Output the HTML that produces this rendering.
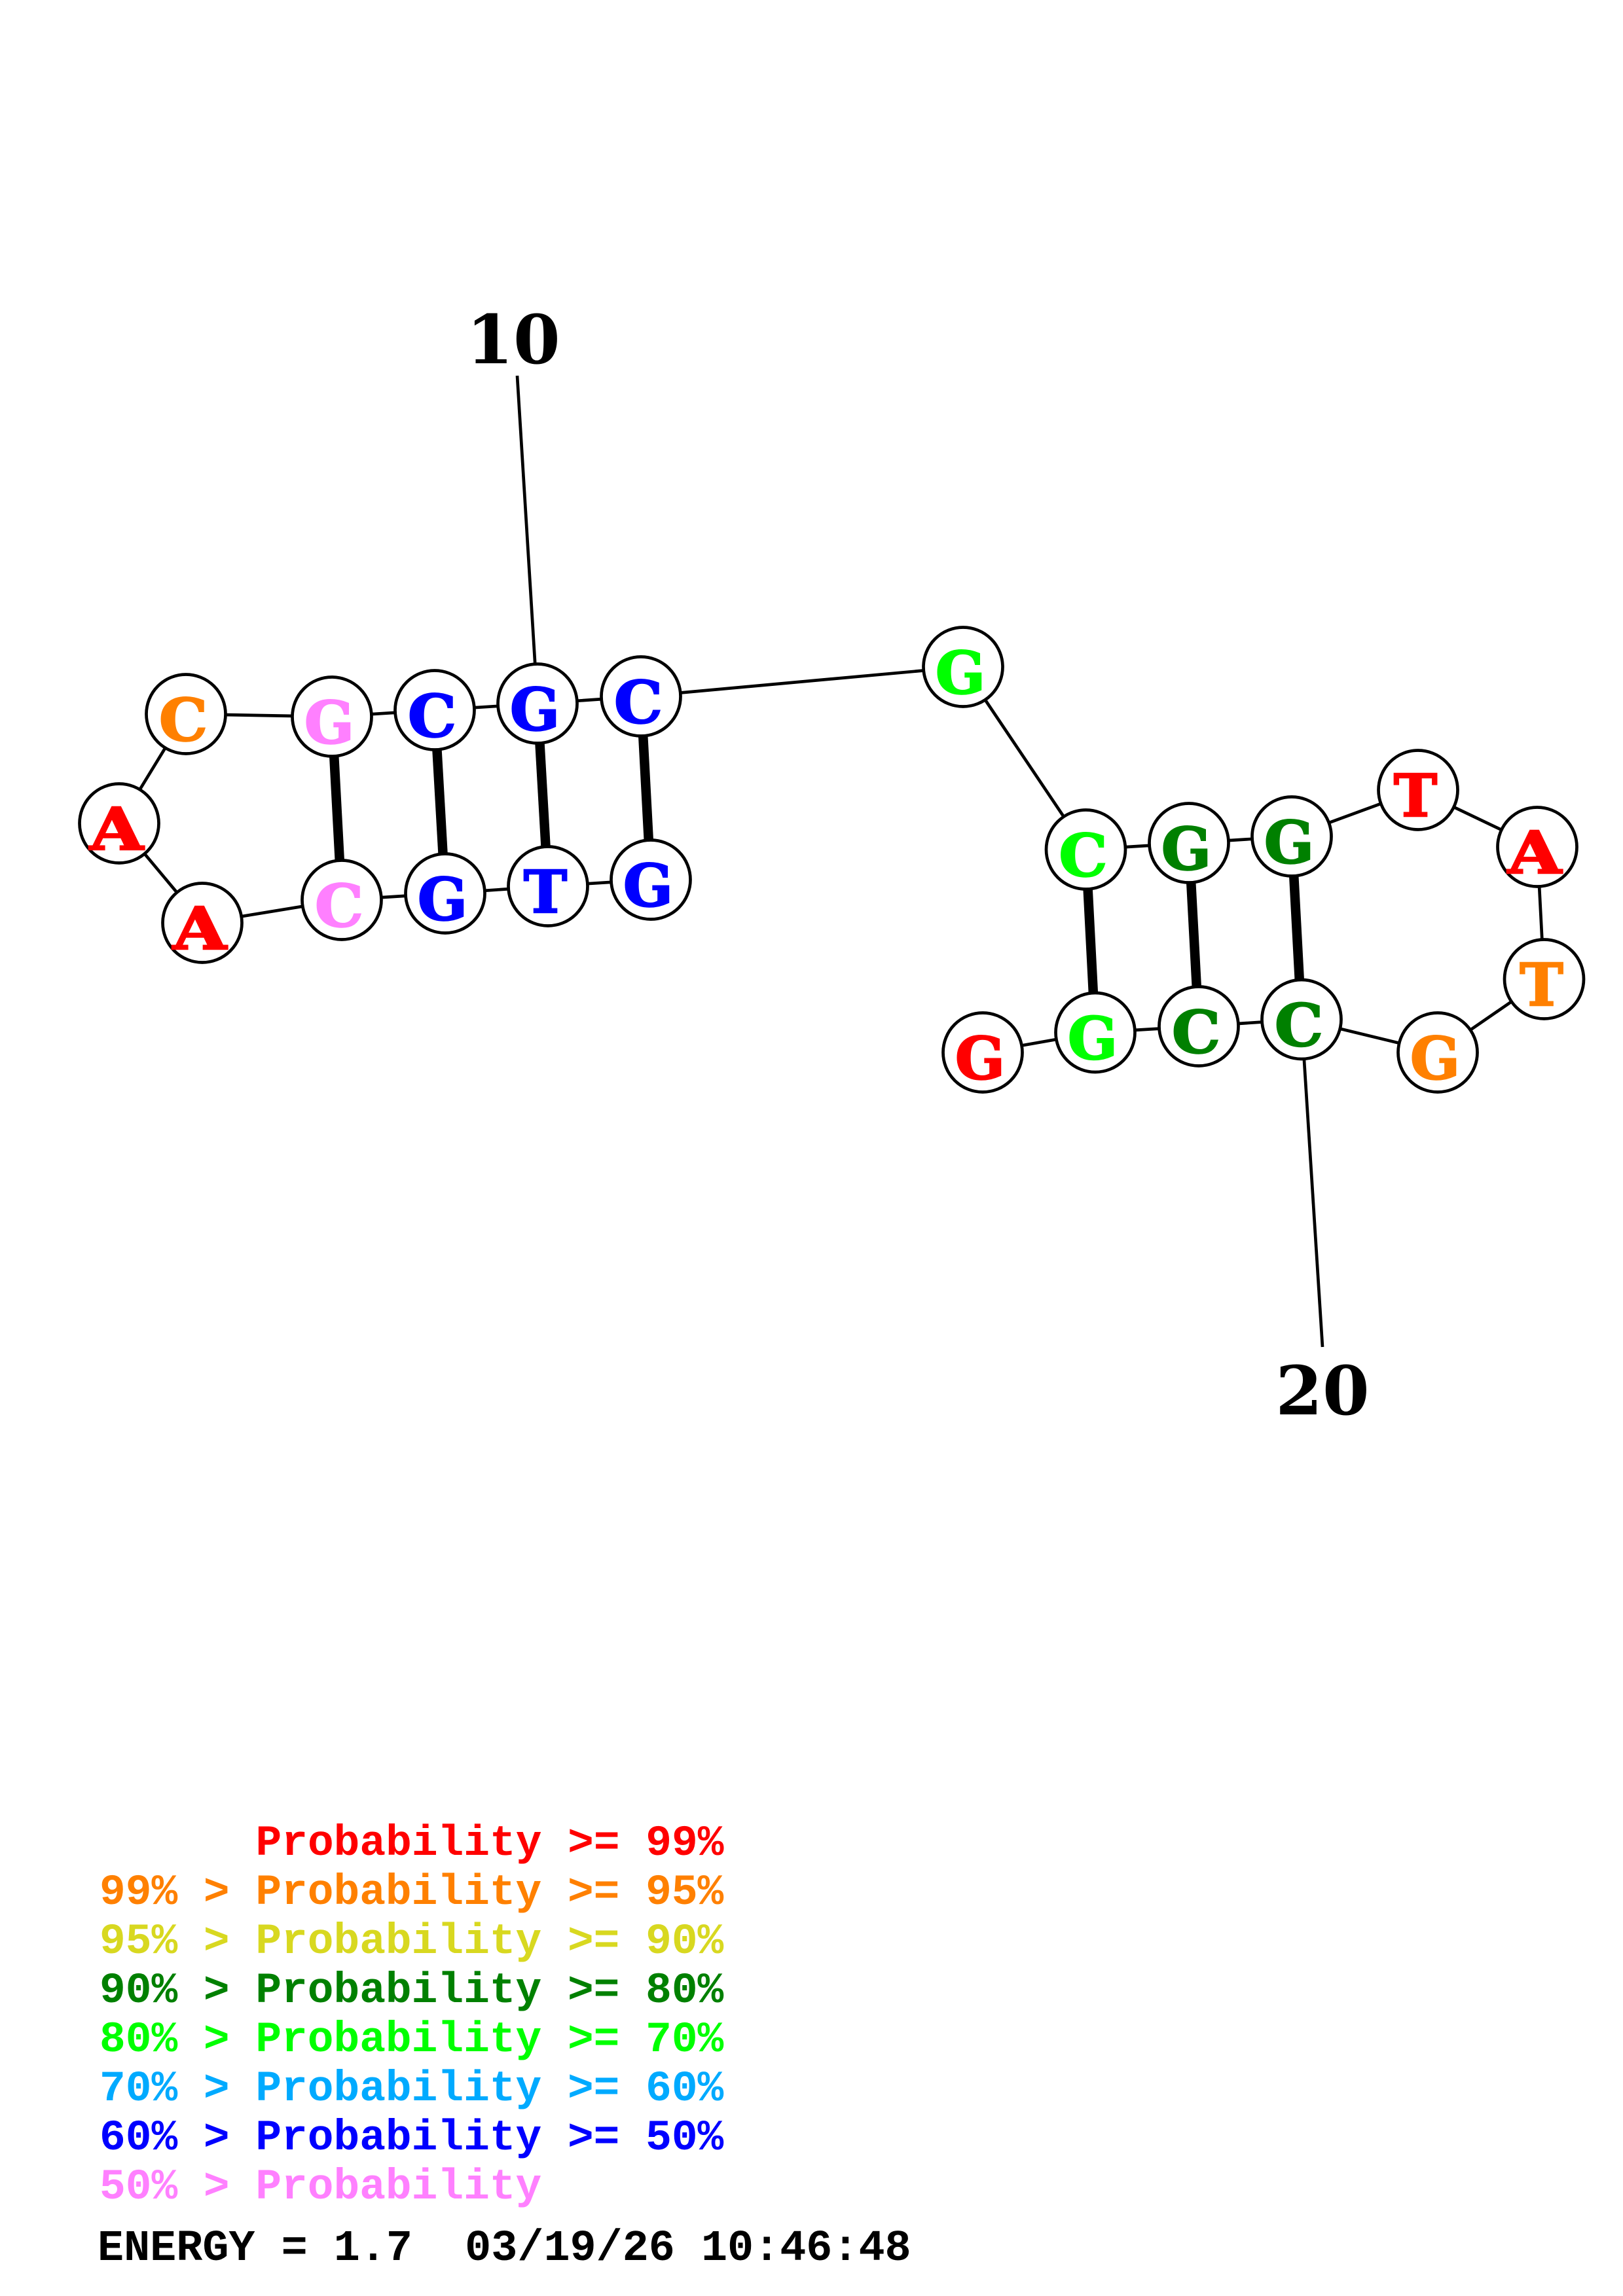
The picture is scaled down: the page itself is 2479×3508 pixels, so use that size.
<!DOCTYPE html>
<html><head><meta charset="utf-8"><style>html,body{margin:0;padding:0;background:#fff}svg{display:block}
text{font-family:"Liberation Mono",monospace;font-weight:bold}
.s text{font-family:"DejaVu Serif","Liberation Serif",serif}
.n text{stroke-width:2.5}</style></head><body>
<svg width="2479" height="3508" viewBox="0 0 2479 3508" xmlns="http://www.w3.org/2000/svg">
<rect width="2479" height="3508" fill="#fff"/>
<g fill="none" stroke="#000" stroke-width="4.7">
<polyline points="994,1344 837,1354 680,1365 522,1375 309,1410 182,1258 284,1091 507,1095 664,1085 821,1075 979,1064 1471,1019 1658.5,1298 1816,1288 1973,1278 2166,1207 2348,1294 2358.5,1496 2196,1608 1988,1557.5 1831,1568 1673,1577.5 1501,1608"/>
<line x1="821" y1="1075" x2="790" y2="574"/>
<line x1="1988" y1="1557.5" x2="2020" y2="2058"/>
</g>
<g stroke="#000" stroke-width="14.5">
<line x1="507" y1="1095" x2="522" y2="1375"/>
<line x1="664" y1="1085" x2="680" y2="1365"/>
<line x1="821" y1="1075" x2="837" y2="1354"/>
<line x1="979" y1="1064" x2="994" y2="1344"/>
<line x1="1658.5" y1="1298" x2="1673" y2="1577.5"/>
<line x1="1816" y1="1288" x2="1831" y2="1568"/>
<line x1="1973" y1="1278" x2="1988" y2="1557.5"/>
</g>
<g fill="#fff" stroke="#000" stroke-width="4.7">
<circle cx="284" cy="1091" r="60.5"/><circle cx="182" cy="1258" r="60.5"/><circle cx="309" cy="1410" r="60.5"/>
<circle cx="507" cy="1095" r="60.5"/><circle cx="664" cy="1085" r="60.5"/><circle cx="821" cy="1075" r="60.5"/><circle cx="979" cy="1064" r="60.5"/>
<circle cx="522" cy="1375" r="60.5"/><circle cx="680" cy="1365" r="60.5"/><circle cx="837" cy="1354" r="60.5"/><circle cx="994" cy="1344" r="60.5"/>
<circle cx="1471" cy="1019" r="60.5"/><circle cx="1658.5" cy="1298" r="60.5"/><circle cx="1816" cy="1288" r="60.5"/><circle cx="1973" cy="1278" r="60.5"/>
<circle cx="2166" cy="1207" r="60.5"/><circle cx="2348" cy="1294" r="60.5"/><circle cx="2358.5" cy="1496" r="60.5"/><circle cx="2196" cy="1608" r="60.5"/>
<circle cx="1988" cy="1557.5" r="60.5"/><circle cx="1831" cy="1568" r="60.5"/><circle cx="1673" cy="1577.5" r="60.5"/><circle cx="1501" cy="1608" r="60.5"/>
</g>
<g class="s n" font-size="89" text-anchor="middle">
<text x="280" y="1131" fill="#ff8000" stroke="#ff8000" textLength="74" lengthAdjust="spacingAndGlyphs">C</text>
<text x="178" y="1298" fill="#ff0000" stroke="#ff0000" textLength="82" lengthAdjust="spacingAndGlyphs">A</text>
<text x="305" y="1450" fill="#ff0000" stroke="#ff0000" textLength="82" lengthAdjust="spacingAndGlyphs">A</text>
<text x="503" y="1135" fill="#ff80ff" stroke="#ff80ff">G</text>
<text x="660" y="1125" fill="#0000ff" stroke="#0000ff" textLength="74" lengthAdjust="spacingAndGlyphs">C</text>
<text x="817" y="1115" fill="#0000ff" stroke="#0000ff">G</text>
<text x="975" y="1104" fill="#0000ff" stroke="#0000ff" textLength="74" lengthAdjust="spacingAndGlyphs">C</text>
<text x="518" y="1415" fill="#ff80ff" stroke="#ff80ff" textLength="74" lengthAdjust="spacingAndGlyphs">C</text>
<text x="676" y="1405" fill="#0000ff" stroke="#0000ff">G</text>
<text x="833" y="1394" fill="#0000ff" stroke="#0000ff">T</text>
<text x="990" y="1384" fill="#0000ff" stroke="#0000ff">G</text>
<text x="1467" y="1059" fill="#00ff00" stroke="#00ff00">G</text>
<text x="1654.5" y="1338" fill="#00ff00" stroke="#00ff00" textLength="74" lengthAdjust="spacingAndGlyphs">C</text>
<text x="1812" y="1328" fill="#008000" stroke="#008000">G</text>
<text x="1969" y="1318" fill="#008000" stroke="#008000">G</text>
<text x="2162" y="1247" fill="#ff0000" stroke="#ff0000">T</text>
<text x="2344" y="1334" fill="#ff0000" stroke="#ff0000" textLength="82" lengthAdjust="spacingAndGlyphs">A</text>
<text x="2354.5" y="1536" fill="#ff8000" stroke="#ff8000">T</text>
<text x="2192" y="1648" fill="#ff8000" stroke="#ff8000">G</text>
<text x="1984" y="1597.5" fill="#008000" stroke="#008000" textLength="74" lengthAdjust="spacingAndGlyphs">C</text>
<text x="1827" y="1608" fill="#008000" stroke="#008000" textLength="74" lengthAdjust="spacingAndGlyphs">C</text>
<text x="1669" y="1617.5" fill="#00ff00" stroke="#00ff00">G</text>
<text x="1497" y="1648" fill="#ff0000" stroke="#ff0000">G</text>
</g>
<g class="s" font-size="103" text-anchor="middle" fill="#000">
<text x="784" y="555">10</text>
<text x="2020" y="2161">20</text>
</g>
<g font-size="66.2">
<text x="390.5" y="2834" fill="#ff0000">Probability &gt;= 99%</text>
<text x="152" y="2909" fill="#ff8000">99% &gt; Probability &gt;= 95%</text>
<text x="152" y="2984" fill="#d8d820">95% &gt; Probability &gt;= 90%</text>
<text x="152" y="3059" fill="#008000">90% &gt; Probability &gt;= 80%</text>
<text x="152" y="3134" fill="#00ff00">80% &gt; Probability &gt;= 70%</text>
<text x="152" y="3209" fill="#00aaff">70% &gt; Probability &gt;= 60%</text>
<text x="152" y="3284" fill="#0000ff">60% &gt; Probability &gt;= 50%</text>
<text x="152" y="3359" fill="#ff80ff">50% &gt; Probability</text>
<text x="149" y="3453" fill="#000" font-size="66.8">ENERGY = 1.7&#160;&#160;03/19/26 10:46:48</text>
</g>
</svg>
</body></html>
